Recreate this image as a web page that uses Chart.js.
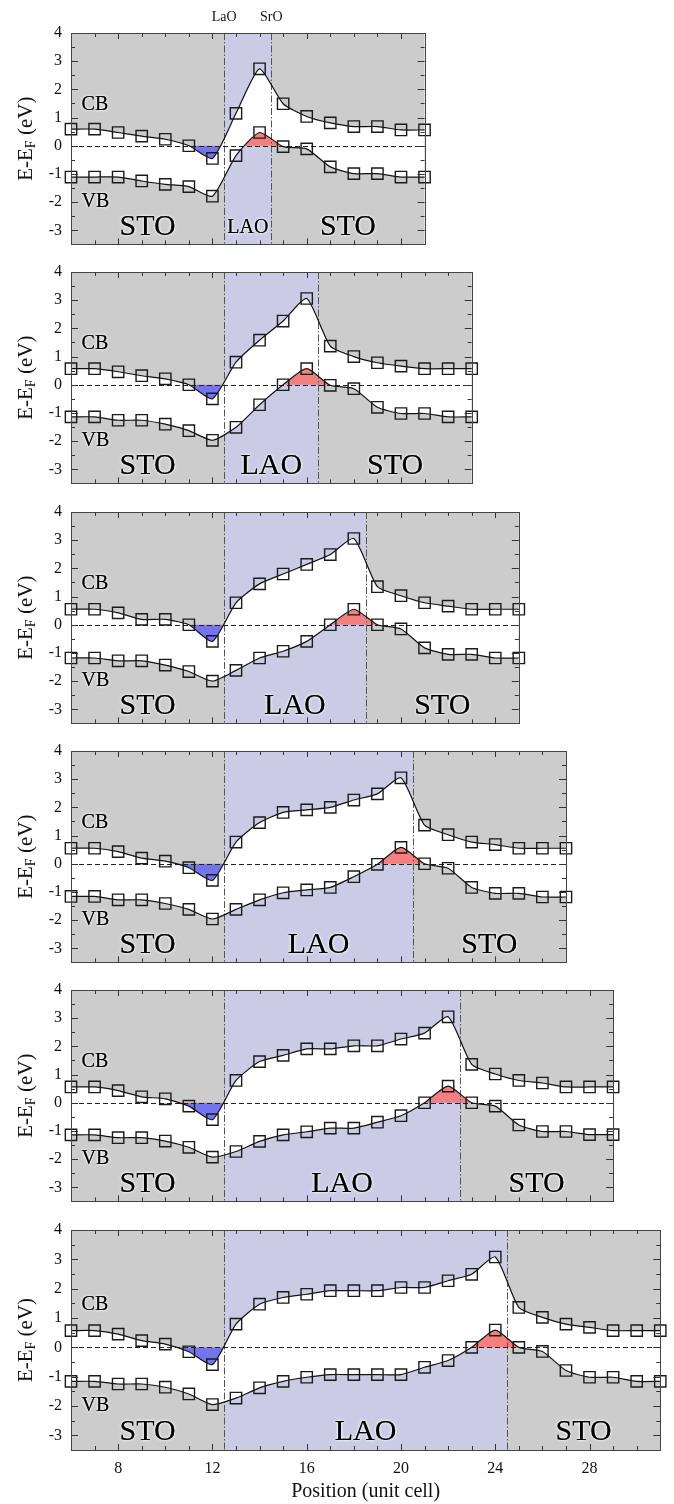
<!DOCTYPE html>
<html>
<head>
<meta charset="utf-8">
<script src="https://cdn.jsdelivr.net/npm/chart.js@4.4.1/dist/chart.umd.min.js"></script>
<style>
html, body { margin: 0; padding: 0; background: #fff; }
#wrap { position: relative; width: 674px; height: 1504px; overflow: hidden; }
#wrap canvas { position: absolute; left: 0; }
</style>
</head>
<body>
<div id="wrap"></div>
<script>
// layer positions (unit cells); every panel starts at 6, LAO starts at 12.5
const xStart = 6;
const xEnds = [21, 23, 25, 27, 29, 31];
const laoStart = 12.5;
const laoEnds = [14.5, 16.5, 18.5, 20.5, 22.5, 24.5];
const yTicks = [-3, -2, -1, 0, 1, 2, 3, 4];
const xTicks = [8, 12, 16, 20, 24, 28];

// band edges E-EF (eV), one value per unit cell from x = 6
const cb1 = [0.59, 0.59, 0.47, 0.34, 0.23, 0.0, -0.45, 1.15, 2.73, 1.49, 1.04, 0.81, 0.68, 0.68, 0.56, 0.56];
const vb1 = [-1.11, -1.11, -1.11, -1.25, -1.37, -1.45, -1.79, -0.35, 0.47, -0.03, -0.11, -0.75, -0.99, -0.99, -1.11, -1.11];

const cb2 = [0.57, 0.57, 0.46, 0.32, 0.21, 0.0, -0.5, 0.8, 1.58, 2.26, 3.06, 1.37, 1.0, 0.78, 0.66, 0.57, 0.57, 0.57];
const vb2 = [-1.14, -1.14, -1.26, -1.26, -1.4, -1.63, -1.97, -1.51, -0.71, 0.0, 0.57, -0.02, -0.14, -0.8, -1.02, -1.02, -1.14, -1.14];

const cb3 = [0.55, 0.55, 0.42, 0.19, 0.19, 0.0, -0.59, 0.78, 1.45, 1.8, 2.14, 2.49, 3.06, 1.35, 1.03, 0.78, 0.66, 0.55, 0.55, 0.55];
const vb3 = [-1.18, -1.18, -1.28, -1.28, -1.43, -1.66, -2.0, -1.62, -1.18, -0.94, -0.59, 0.0, 0.55, 0.0, -0.15, -0.82, -1.05, -1.05, -1.18, -1.18];

const cb4 = [0.55, 0.55, 0.43, 0.2, 0.09, -0.14, -0.59, 0.77, 1.46, 1.82, 1.91, 2.0, 2.26, 2.48, 3.05, 1.37, 1.03, 0.77, 0.68, 0.55, 0.55, 0.55];
const vb4 = [-1.16, -1.16, -1.28, -1.28, -1.41, -1.62, -1.96, -1.62, -1.28, -1.03, -0.93, -0.84, -0.46, -0.02, 0.58, 0.0, -0.16, -0.84, -1.05, -1.05, -1.18, -1.18];

const cb5 = [0.56, 0.56, 0.43, 0.21, 0.14, -0.12, -0.6, 0.79, 1.46, 1.68, 1.91, 1.91, 2.02, 2.02, 2.26, 2.47, 3.05, 1.36, 1.02, 0.79, 0.7, 0.56, 0.56, 0.56];
const vb5 = [-1.14, -1.14, -1.24, -1.24, -1.36, -1.58, -1.93, -1.73, -1.37, -1.14, -1.03, -0.9, -0.9, -0.69, -0.46, 0.0, 0.59, 0.0, -0.12, -0.79, -1.02, -1.02, -1.13, -1.13];

const cb6 = [0.57, 0.57, 0.45, 0.23, 0.11, -0.15, -0.59, 0.79, 1.47, 1.7, 1.81, 1.93, 1.93, 1.93, 2.04, 2.04, 2.27, 2.49, 3.08, 1.36, 1.02, 0.79, 0.68, 0.57, 0.57, 0.57];
const vb6 = [-1.16, -1.16, -1.25, -1.25, -1.36, -1.59, -1.95, -1.73, -1.38, -1.16, -1.02, -0.93, -0.93, -0.93, -0.93, -0.68, -0.45, 0.0, 0.59, 0.0, -0.14, -0.79, -1.02, -1.02, -1.16, -1.16];

const cbs = [cb1, cb2, cb3, cb4, cb5, cb6];
const vbs = [vb1, vb2, vb3, vb4, vb5, vb6];

const PX_PER_CELL = 23.57;
const PLOT_LEFT = 71;
const PLOT_H = 220;
const panelTops = [33, 272, 512, 751, 990, 1230];
const SERIF = '"Liberation Serif", "DejaVu Serif", serif';

const GRAY = '#cccccc';
const LAV = '#cbcbe5';
const BLUE = '#7474ef';
const RED = '#f47f7f';

const wrap = document.getElementById('wrap');

function glowText(ctx, txt, x, y, size, align) {
    ctx.font = size + 'px ' + SERIF;
    ctx.textAlign = align || 'center';
    ctx.textBaseline = 'middle';
    ctx.shadowColor = 'rgba(255,255,255,0.95)';
    ctx.shadowBlur = 3;
    ctx.fillStyle = '#000';
    ctx.fillText(txt, x, y);
    ctx.fillText(txt, x, y);
    ctx.shadowBlur = 0;
}

function decoPlugin(i) {
    const laoEnd = laoEnds[i];
    const xEnd = xEnds[i];
    return {
        id: 'deco' + i,
        beforeDatasetsDraw(chart) {
            const { ctx, chartArea: a, scales: { x } } = chart;
            ctx.save();
            ctx.fillStyle = GRAY;
            ctx.fillRect(a.left, a.top, a.width, a.height);
            const l0 = x.getPixelForValue(laoStart);
            const l1 = x.getPixelForValue(laoEnd);
            ctx.fillStyle = LAV;
            ctx.fillRect(l0, a.top, l1 - l0, a.height);
            ctx.restore();
        },
        beforeDatasetDraw(chart, args) {
            // zero line + interfaces go over the fills but under the band lines
            if (args.index !== 1) return;
            const { ctx, chartArea: a, scales: { x, y } } = chart;
            ctx.save();
            ctx.lineWidth = 1;
            ctx.strokeStyle = '#555';
            ctx.setLineDash([7, 2, 1.5, 2]);
            [laoStart, laoEnd].forEach(v => {
                const px = Math.round(x.getPixelForValue(v)) + 0.5;
                ctx.beginPath();
                ctx.moveTo(px, a.top);
                ctx.lineTo(px, a.bottom);
                ctx.stroke();
            });
            ctx.strokeStyle = i === 5 ? '#1c1c55' : '#222';
            ctx.setLineDash([5, 3]);
            const y0 = Math.round(y.getPixelForValue(0)) + 0.5;
            ctx.beginPath();
            ctx.moveTo(a.left, y0);
            ctx.lineTo(a.right, y0);
            ctx.stroke();
            ctx.restore();
        },
        afterDatasetsDraw(chart) {
            const { ctx, chartArea: a, scales: { x, y } } = chart;
            ctx.save();
            // region labels
            glowText(ctx, 'CB', x.getPixelForValue(6.45), y.getPixelForValue(1.45), 20, 'left');
            glowText(ctx, 'VB', x.getPixelForValue(6.45), y.getPixelForValue(-2.0), 20, 'left');
            glowText(ctx, 'STO', x.getPixelForValue((xStart + laoStart) / 2), y.getPixelForValue(-2.9), 30);
            glowText(ctx, 'LAO', x.getPixelForValue((laoStart + laoEnd) / 2), y.getPixelForValue(-2.9), i === 0 ? 20 : 30);
            glowText(ctx, 'STO', x.getPixelForValue((laoEnd + xEnd) / 2), y.getPixelForValue(-2.9), 30);

            // inward tick marks
            ctx.strokeStyle = '#333';
            ctx.lineWidth = 1;
            ctx.beginPath();
            for (let v = xStart + 1; v < xEnd; v++) {
                const px = Math.round(x.getPixelForValue(v)) + 0.5;
                const len = (v % 4 === 0) ? 6 : 4;
                ctx.moveTo(px, a.top); ctx.lineTo(px, a.top + len);
                ctx.moveTo(px, a.bottom); ctx.lineTo(px, a.bottom - len);
            }
            for (let v = -3; v <= 3.5; v += 0.5) {
                const py = Math.round(y.getPixelForValue(v)) + 0.5;
                const len = Number.isInteger(v) ? 7 : 4;
                ctx.moveTo(a.left, py); ctx.lineTo(a.left + len, py);
                ctx.moveTo(a.right, py); ctx.lineTo(a.right - len, py);
            }
            ctx.stroke();

            // frame
            ctx.strokeStyle = '#444';
            ctx.strokeRect(Math.round(a.left) + 0.5, Math.round(a.top) + 0.5, Math.round(a.width), Math.round(a.height));

            // y title with subscript F
            const cy = (a.top + a.bottom) / 2;
            ctx.translate(26, cy);
            ctx.rotate(-Math.PI / 2);
            ctx.fillStyle = '#111';
            ctx.textBaseline = 'middle';
            ctx.textAlign = 'left';
            const big = '21px ' + SERIF, small = '14px ' + SERIF;
            ctx.font = big;
            const w1 = ctx.measureText('E-E').width;
            const w3 = ctx.measureText(' (eV)').width;
            ctx.font = small;
            const w2 = ctx.measureText('F').width;
            let sx = -(w1 + w2 + w3) / 2;
            ctx.font = big;
            ctx.fillText('E-E', sx, 0);
            ctx.font = small;
            ctx.fillText('F', sx + w1, 5);
            ctx.font = big;
            ctx.fillText(' (eV)', sx + w1 + w2, 0);
            ctx.setTransform(1, 0, 0, 1, 0, 0);

            if (i === 0) {
                ctx.font = '14px ' + SERIF;
                ctx.textAlign = 'center';
                ctx.fillStyle = '#111';
                ctx.fillText('LaO', x.getPixelForValue(laoStart), 17);
                ctx.fillText('SrO', x.getPixelForValue(laoEnd), 17);
            }
            ctx.restore();
        }
    };
}

for (let i = 0; i < 6; i++) {
    const cb = cbs[i], vb = vbs[i];
    const last = i === 5;
    const padTop = i === 0 ? 33 : 20;
    const padBottom = last ? 0 : 10;
    const xAxisH = last ? 1504 - (panelTops[i] + PLOT_H) : 0;
    const rightEdge = PLOT_LEFT + (xEnds[i] - xStart) * PX_PER_CELL;

    const canvas = document.createElement('canvas');
    canvas.width = 674;
    canvas.height = padTop + PLOT_H + padBottom + xAxisH;
    canvas.style.top = (panelTops[i] - padTop) + 'px';
    wrap.appendChild(canvas);

    const cbPts = cb.map((v, k) => ({ x: xStart + k, y: v }));
    const vbPts = vb.map((v, k) => ({ x: xStart + k, y: v }));

    const lineStyle = {
        borderColor: '#111',
        borderWidth: 1.2,
        pointStyle: 'rect',
        pointRadius: 8,
        pointBorderWidth: 1.4,
        pointBorderColor: '#1a1a1a',
        pointBackgroundColor: 'rgba(0,0,0,0)',
        tension: 0.2,
        fill: false,
        clip: false
    };
    const fillOnly = { borderWidth: 0, borderColor: 'rgba(0,0,0,0)', pointRadius: 0, tension: 0.2 };

    new Chart(canvas, {
        type: 'line',
        data: {
            datasets: [
                Object.assign({ label: 'CB', data: cbPts }, lineStyle),
                Object.assign({ label: 'VB', data: vbPts }, lineStyle),
                Object.assign({ label: 'gap', data: cbPts, fill: '+1', backgroundColor: '#ffffff' }, fillOnly),
                Object.assign({ label: 'gapLow', data: vbPts, fill: false }, fillOnly),
                Object.assign({ label: 'electrons', data: cbPts, fill: { target: { value: 0 }, above: 'rgba(0,0,0,0)', below: BLUE } }, fillOnly),
                Object.assign({ label: 'holes', data: vbPts, fill: { target: { value: 0 }, above: RED, below: 'rgba(0,0,0,0)' } }, fillOnly)
            ]
        },
        options: {
            responsive: false,
            animation: false,
            devicePixelRatio: 1,
            events: [],
            layout: { padding: { left: 0, right: 674 - rightEdge, top: padTop, bottom: padBottom } },
            plugins: { legend: { display: false }, tooltip: { enabled: false } },
            scales: {
                x: {
                    type: 'linear',
                    min: xStart,
                    max: xEnds[i],
                    display: last,
                    grid: { display: false, drawTicks: false },
                    border: { display: false },
                    afterBuildTicks: s => { s.ticks = xTicks.filter(v => v < xEnds[i]).map(v => ({ value: v })); },
                    afterFit: s => { if (last) s.height = xAxisH; },
                    ticks: {
                        autoSkip: false,
                        maxRotation: 0,
                        padding: 9,
                        color: '#111',
                        font: { family: SERIF, size: 16 },
                        callback: v => String(v)
                    },
                    title: {
                        display: last,
                        text: 'Position (unit cell)',
                        color: '#111',
                        font: { family: SERIF, size: 20 },
                        padding: { top: 0, bottom: 0 }
                    }
                },
                y: {
                    type: 'linear',
                    min: -3.5,
                    max: 4,
                    grid: { display: false, drawTicks: false },
                    border: { display: false },
                    afterBuildTicks: s => { s.ticks = yTicks.map(v => ({ value: v })); },
                    afterFit: s => { s.width = PLOT_LEFT; },
                    ticks: {
                        padding: 9,
                        color: '#111',
                        font: { family: SERIF, size: 16 },
                        callback: v => String(v)
                    }
                }
            }
        },
        plugins: [decoPlugin(i)]
    });
}
</script>
</body>
</html>
